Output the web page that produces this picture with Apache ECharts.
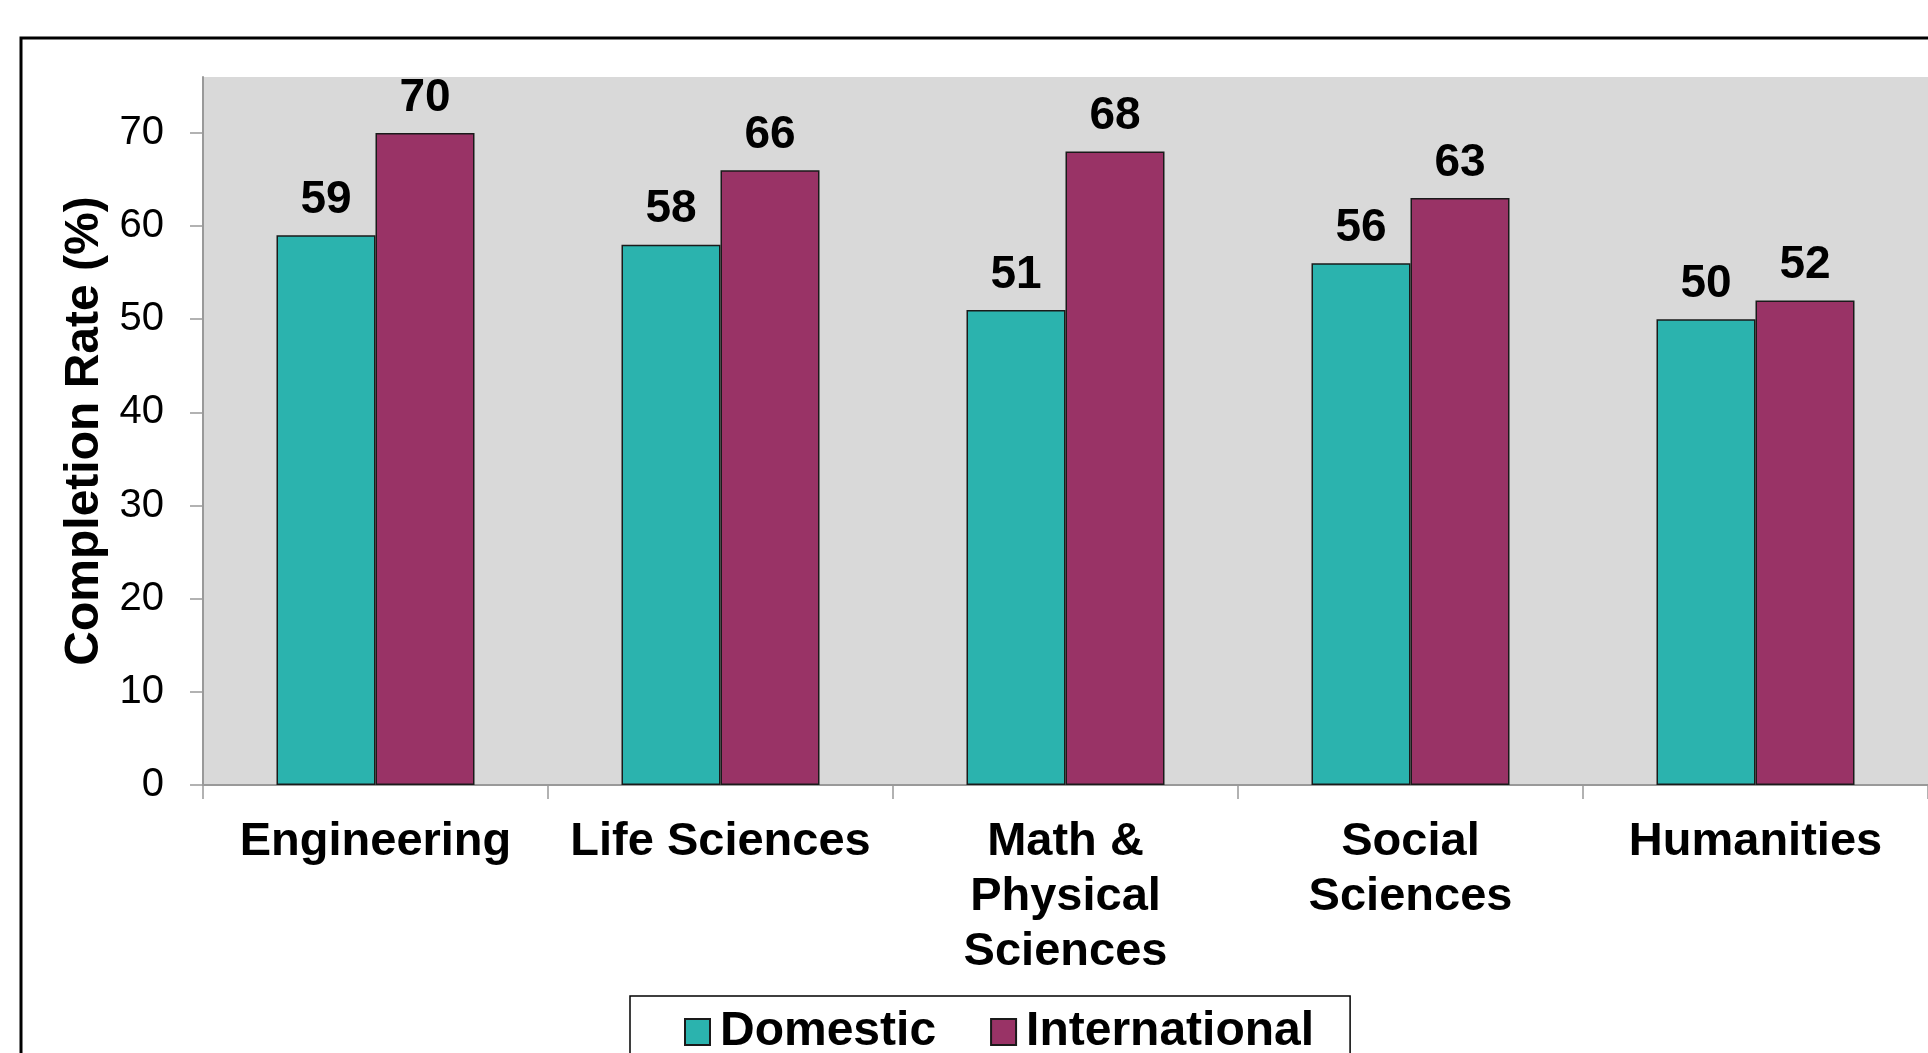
<!DOCTYPE html>
<html>
<head>
<meta charset="utf-8">
<script src="https://cdn.jsdelivr.net/npm/echarts@6/dist/echarts.min.js"></script>
<style>
html,body{margin:0;padding:0;background:#fff;}
#chart{width:1928px;height:1053px;}
</style>
</head>
<body>
<div id="chart"></div>
<script>
const categories = ['Engineering', 'Life Sciences', 'Math & Physical Sciences', 'Social Sciences', 'Humanities'];
const domestic = [59, 58, 51, 56, 50];
const international = [70, 66, 68, 63, 52];
const yTicks = [0, 10, 20, 30, 40, 50, 60, 70];
const seriesNames = ['Domestic', 'International'];

const FONT = '"Liberation Sans", Arial, Helvetica, sans-serif';
const chart = echarts.init(document.getElementById('chart'));

const labelStyle = {
  show: true,
  position: 'top',
  distance: 12,
  color: '#000',
  fontFamily: FONT,
  fontWeight: 'bold',
  fontSize: 46
};

function wrapCategory(v) {
  let s = v.replace('& ', '&\n');
  if (v.length > 13) s = s.replace(/ (?=Sciences)/, '\n');
  return s;
}

chart.setOption({
  animation: false,
  backgroundColor: '#fff',
  graphic: [{
    type: 'rect',
    shape: { x: 21, y: 38, width: 2000, height: 2000 },
    style: { fill: 'none', stroke: '#000', lineWidth: 3 },
    z: 100
  }],
  grid: {
    left: 203, right: 0, top: 77, bottom: 268,
    show: true, backgroundColor: '#D9D9D9', borderWidth: 0
  },
  legend: {
    data: seriesNames,
    left: 630, top: 996,
    padding: [12, 36, 12, 54],
    backgroundColor: '#fff',
    borderColor: '#000', borderWidth: 1.5,
    itemGap: 54, itemWidth: 25, itemHeight: 26,
    icon: 'rect',
    textStyle: { fontFamily: FONT, fontWeight: 'bold', fontSize: 48, color: '#000', padding: [0, 0, 0, 5] }
  },
  xAxis: {
    type: 'category',
    data: categories,
    axisLine: { lineStyle: { color: '#999', width: 2 } },
    axisTick: { show: true, alignWithLabel: false, length: 14, lineStyle: { color: '#999', width: 1.5 } },
    axisLabel: {
      interval: 0, margin: 30, color: '#000',
      fontFamily: FONT, fontWeight: 'bold', fontSize: 47, lineHeight: 55,
      align: 'center', formatter: wrapCategory
    }
  },
  yAxis: {
    type: 'value',
    min: 0, max: 76, interval: 10,
    name: 'Completion Rate (%)',
    nameLocation: 'middle',
    nameGap: 92,
    nameTextStyle: { fontFamily: FONT, fontWeight: 'bold', fontSize: 48, color: '#000' },
    splitLine: { show: false },
    axisLine: { show: true, lineStyle: { color: '#999', width: 2 } },
    axisTick: { show: true, length: 13, customValues: yTicks, lineStyle: { color: '#999', width: 1.5 } },
    axisLabel: {
      margin: 39, color: '#000', customValues: yTicks,
      fontFamily: FONT, fontSize: 40
    }
  },
  series: [
    {
      name: seriesNames[0], type: 'bar', data: domestic,
      barWidth: 99, barGap: '0%',
      itemStyle: { color: '#2BB3AE', borderColor: '#1a1a1a', borderWidth: 1.5 },
      label: labelStyle
    },
    {
      name: seriesNames[1], type: 'bar', data: international,
      barWidth: 99, barGap: '0%',
      itemStyle: { color: '#993366', borderColor: '#1a1a1a', borderWidth: 1.5 },
      label: labelStyle
    }
  ]
});
</script>
</body>
</html>
